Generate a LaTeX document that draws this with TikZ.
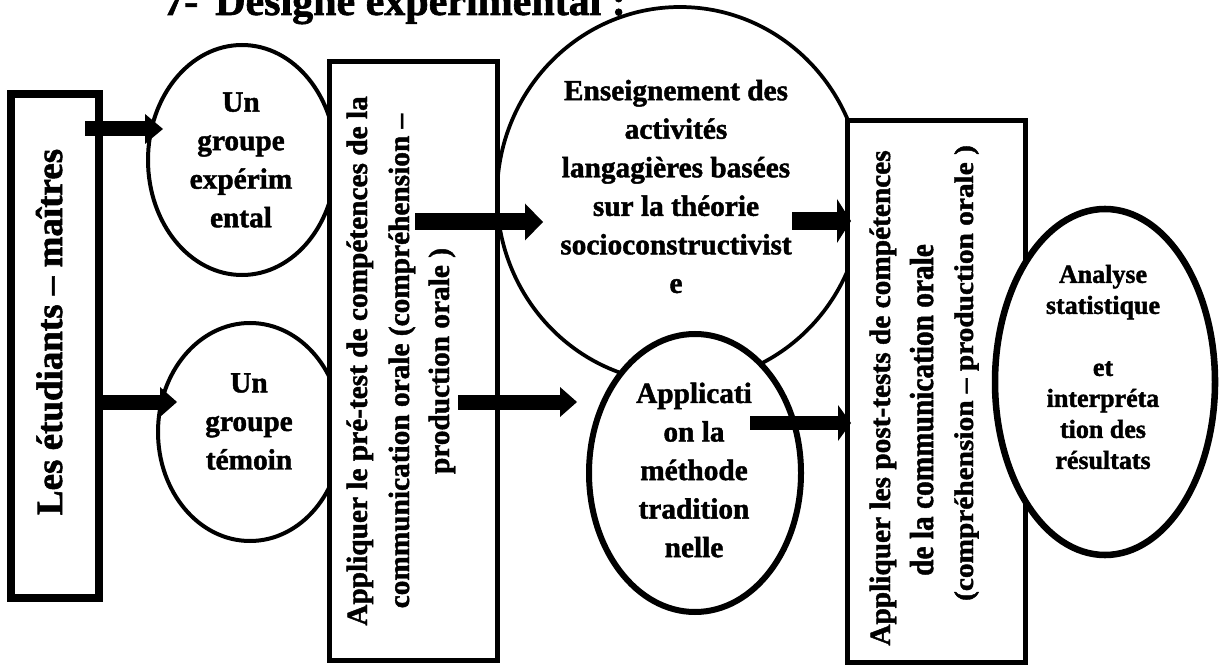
\documentclass[tikz,border=0pt]{standalone}
\usepackage{fontspec}
\setmainfont{Liberation Serif}[BoldFeatures={FakeBold=1.5}]
\usetikzlibrary{arrows.meta,shapes.geometric}
\newcommand\fsz[2]{\fontsize{#1}{#2}\selectfont}
\tikzset{
  rbox/.style={draw, fill=white, rectangle, inner sep=0pt},
  ell/.style={draw, fill=white, ellipse, inner sep=0pt},
  txt/.style={inner sep=0pt, align=center, font=\bfseries\fsz{22}{28.9}},
  vtxt/.style={inner sep=0pt, rotate=90, anchor=base, font=\bfseries\fsz{22}{28.9}},
  arr/.style n args={3}{line width=#1, -{Triangle[width=#2,length=#3,line width=0pt]}}
}
\begin{document}
\begin{tikzpicture}[x=0.75pt,y=-0.75pt]
\useasboundingbox (0,0) rectangle (1219,666);
\clip (0,0) rectangle (1219,666);
\fill[white] (0,0) rectangle (1219,666);

% shapes
\node[ell, line width=2.8pt, minimum width=274.5pt, minimum height=282pt] (circ) at (680,195) {};
\node[ell, line width=4.5pt, minimum width=159pt, minimum height=208.5pt] (app) at (695,473) {};
\node[ell, line width=3pt, minimum width=141pt, minimum height=172.5pt] (g1) at (242,160) {};
\node[ell, line width=3pt, minimum width=138pt, minimum height=163.5pt] (g2) at (250,432) {};
\node[rbox, line width=6pt, minimum width=66pt, minimum height=378pt] (lbox) at (55,346) {};
\node[rbox, line width=3.75pt, minimum width=126pt, minimum height=449.6pt] (pre) at (413.5,361) {};
\node[rbox, line width=3.75pt, minimum width=133.5pt, minimum height=406.5pt] (post) at (936.5,391.5) {};
\node[ell, line width=4.9pt, minimum width=165pt, minimum height=259.5pt] (ana) at (1105,382) {};

% title
\node[anchor=base west, inner sep=0pt, font=\bfseries\fsz{31.5}{36}] (title) at (163,15) {7-\hspace{12.75pt}Designe experimental :};

% texts
\node[inner sep=0pt, rotate=90, anchor=base, font=\bfseries\fsz{27.75}{32}] (ltxt) at (62,332) {Les étudiants – maîtres};
\node[txt] (g1t) at (241,160) {Un\\groupe\\expérim\\ental};
\node[txt] (g2t) at (249,421.5) {Un\\groupe\\témoin};
\node[txt] (ct) at (676,186.5) {Enseignement des\\activités\\langagières basées\\sur la théorie\\socioconstructivist\\e};
\node[txt] (appt) at (694,470) {Applicati\\on la\\méthode\\tradition\\nelle};
\node[inner sep=0pt, align=center, font=\bfseries\fsz{19.5}{23.25}] (anat) at (1103,367) {Analyse\\statistique\\[23.25pt]et\\interpréta\\tion des\\résultats};

\node[vtxt] (pre1) at (367,361) {Appliquer le pré-test de compétences de la};
\node[vtxt] (pre2) at (409,361) {communication orale (compréhension –};
\node[vtxt] (pre3) at (449,361) {production orale )};

\node[vtxt] (post1) at (890,398) {Appliquer les post-tests de compétences};
\node[vtxt, yscale=1.14] (post2) at (933,410) {de la communication orale};
\node[vtxt, yscale=0.92] (post3) at (973,373) {(compréhension – production orale )};

% arrow ends
\coordinate (a1s) at (85,129);   \coordinate (a1e) at (163,129);
\coordinate (a2s) at (100,402);  \coordinate (a2e) at (177,402);
\coordinate (a3s) at (415,222);  \coordinate (a3e) at (543,222);
\coordinate (a4s) at (458,402);  \coordinate (a4e) at (577,402);
\coordinate (a5s) at (792,221);  \coordinate (a5e) at (851,221);
\coordinate (a6s) at (750,423);  \coordinate (a6e) at (851,423);

\draw[arr={11.25pt}{22.5pt}{13.5pt}] (a1s) -- (a1e);
\draw[arr={11.25pt}{22.5pt}{12.75pt}] (a2s) -- (a2e);
\draw[arr={12.75pt}{27.75pt}{13.5pt}] (a3s) -- (a3e);
\draw[arr={11.25pt}{22.5pt}{12.75pt}] (a4s) -- (a4e);
\draw[arr={13.5pt}{33pt}{10.5pt}] (a5s) -- (a5e);
\draw[arr={10.5pt}{27pt}{9.75pt}] (a6s) -- (a6e);
\end{tikzpicture}
\end{document}
